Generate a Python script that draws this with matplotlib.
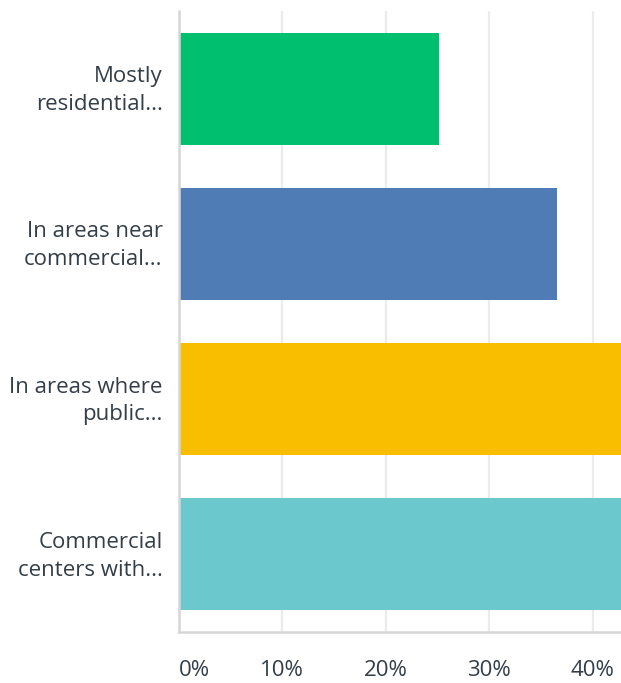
import matplotlib
matplotlib.use("Agg")
import matplotlib.pyplot as plt
import matplotlib.transforms as mtransforms

# Survey responses: share of respondents per answer choice (%)
categories = [
    "Mostly\nresidential...",
    "In areas near\ncommercial...",
    "In areas where\npublic...",
    "Commercial\ncenters with...",
]
values = [25.2, 36.6, 46.0, 49.2]
colors = ["#00BF6F", "#507CB6", "#F9BE00", "#6BC8CD"]
xticks = [0, 10, 20, 30, 40]
xtick_labels = ["0%", "10%", "20%", "30%", "40%"]

text_color = "#333E48"
plt.rcParams["font.family"] = ["Open Sans", "DejaVu Sans"]

fig = plt.figure(figsize=(6.21, 6.83), dpi=100)
W, H = 621, 683
ax = fig.add_axes([178.5 / W, (H - 632) / H, 1 - 178.5 / W, (632 - 11) / H])

ypos = list(range(len(categories)))
ax.barh(ypos, values, height=0.72, color=colors, zorder=2)

ax.set_ylim(len(categories) - 0.5, -0.5)
ax.set_xlim(0, 42.75)

ax.set_yticks(ypos)
ax.set_yticklabels(categories, fontsize=16, color=text_color, linespacing=1.42)
ax.set_xticks(xticks)
ax.set_xticklabels(xtick_labels, fontsize=16, color=text_color)
ax.get_xticklabels()[0].set_horizontalalignment("left")
ax.tick_params(axis="y", length=0, pad=11.5)
ax.tick_params(axis="x", length=0, pad=20.5)

# nudge the category labels slightly upward
lift = mtransforms.ScaledTranslation(0, 4 / 100, fig.dpi_scale_trans)
for lbl in ax.get_yticklabels():
    lbl.set_transform(lbl.get_transform() + lift)

ax.grid(axis="x", color="#EBEBEB", linewidth=1.6, zorder=0)
ax.set_axisbelow(True)
for side in ("top", "right"):
    ax.spines[side].set_visible(False)
for side in ("left", "bottom"):
    ax.spines[side].set_color("#D6D6D6")
    ax.spines[side].set_linewidth(1.8)

fig.savefig("out.png", dpi=100, facecolor="white")
